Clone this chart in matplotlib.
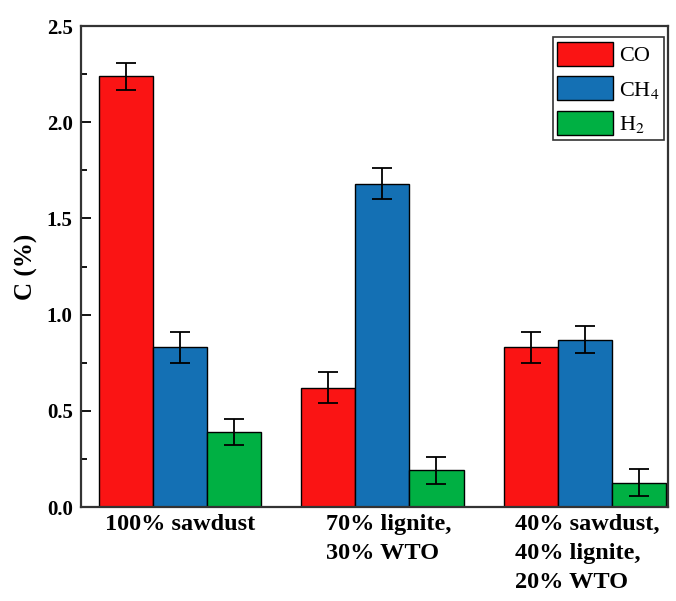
import matplotlib
matplotlib.use("Agg")
from matplotlib import pyplot as plt
from matplotlib.ticker import MultipleLocator
import numpy as np

plt.rcParams['font.family'] = ['Liberation Serif', 'DejaVu Serif']
plt.rcParams['mathtext.fontset'] = 'stix'

groups = ['100% sawdust', '70% lignite,\n30% WTO', '40% sawdust,\n40% lignite,\n20% WTO']
gases = ['CO', 'CH$_4$', 'H$_2$']
co = [2.24, 0.62, 0.83]
ch4 = [0.83, 1.68, 0.87]
h2 = [0.39, 0.19, 0.125]
co_err = [0.07, 0.08, 0.08]
ch4_err = [0.08, 0.08, 0.07]
h2_err = [0.07, 0.07, 0.07]
label_pos = [0.0, 1.03, 2.01]

colors = ['#fa1414', '#1470b4', '#00b043']

fig = plt.figure(figsize=(6.76, 6.01), dpi=100)
ax = fig.add_axes([0.1198, 0.1564, 0.8682, 0.8003])

x = np.arange(len(groups))
w = 0.267
for k, (vals, errs) in enumerate([(co, co_err), (ch4, ch4_err), (h2, h2_err)]):
    ax.bar(x + (k - 1) * w, vals, w, yerr=errs, color=colors[k], edgecolor='black',
           linewidth=1, label=gases[k],
           error_kw=dict(ecolor='black', elinewidth=1.3, capsize=7, capthick=1.3))

ax.set_xlim(-0.489, 2.41)
ax.set_ylim(0, 2.5)
ax.yaxis.set_major_locator(MultipleLocator(0.5))
ax.yaxis.set_minor_locator(MultipleLocator(0.25))
ax.tick_params(axis='y', which='major', length=7, width=1.3, labelsize=15,
               direction='in', pad=6)
ax.tick_params(axis='y', which='minor', length=4.5, width=1.3, direction='in')
for lab in ax.get_yticklabels():
    lab.set_fontweight('bold')
ax.set_xticks(label_pos)
ax.set_xticklabels(groups, fontsize=17.5, fontweight='bold', multialignment='left',
                   va='top', linespacing=1.5)
ax.tick_params(axis='x', length=0, pad=5)
ax.set_ylabel('C (%)', fontsize=18, fontweight='bold', labelpad=6)
for s in ax.spines.values():
    s.set_linewidth(1.6)
    s.set_color('#333333')

leg = ax.legend(loc='upper right', bbox_to_anchor=(0.993, 0.977), fontsize=16,
                handlelength=2.5, handleheight=1.3, labelspacing=0.45,
                handletextpad=0.27, borderpad=0.2, fancybox=False,
                framealpha=1, borderaxespad=0)
leg.get_frame().set_edgecolor('#333333')
leg.get_frame().set_linewidth(1.2)

fig.savefig('out.png', dpi=100)
